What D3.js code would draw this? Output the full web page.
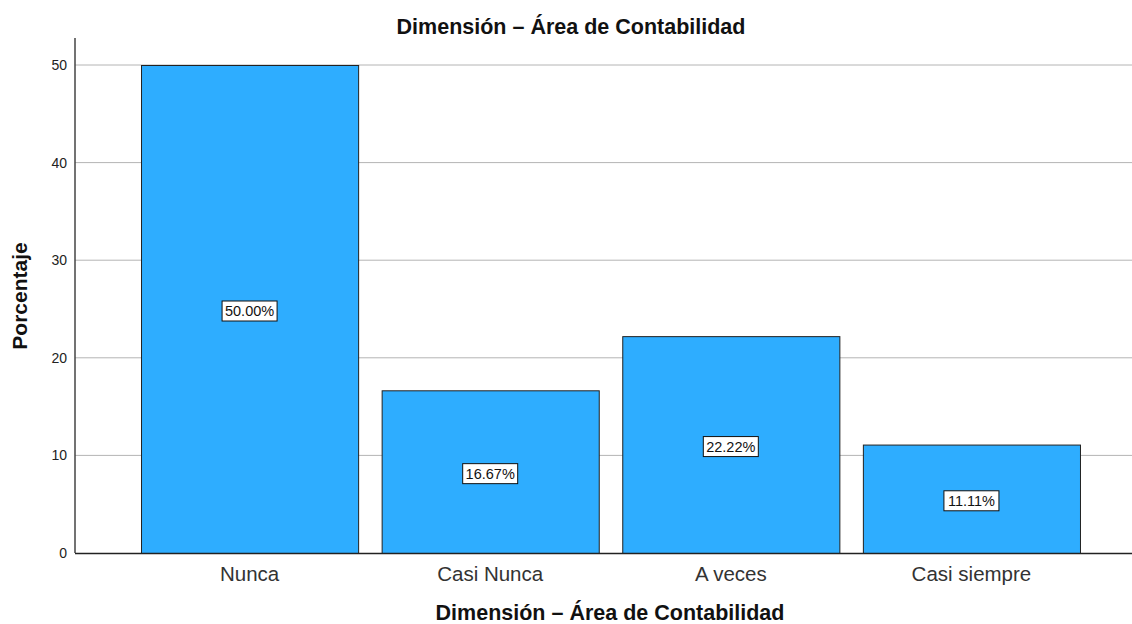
<!DOCTYPE html>
<html><head><meta charset="utf-8">
<script src="https://cdn.jsdelivr.net/npm/d3@7"></script>
<style>body{margin:0;background:#fff}svg{display:block;font-family:"Liberation Sans",Arial,sans-serif}</style>
</head><body><svg id="c" width="1132" height="624"></svg>
<script>
const categories = ["Nunca", "Casi Nunca", "A veces", "Casi siempre"];
const values = [50.00, 16.67, 22.22, 11.11];
const valueLabels = ["50.00%", "16.67%", "22.22%", "11.11%"];
const yTicks = [0, 10, 20, 30, 40, 50];
const title = "Dimensión – Área de Contabilidad";
const xTitle = "Dimensión – Área de Contabilidad";
const yTitle = "Porcentaje";

(function () {
const svg = d3.select("#c");
const mLeft = 75, mRight = 1132, mTop = 38, mBottom = 553;
const y = d3.scaleLinear().domain([0, 50]).range([mBottom, 65]);
const x = d3.scaleBand().domain(categories).range([129.25, 1091.75]).paddingInner(0.0977).paddingOuter(0.0489);

// gridlines
svg.append("g").selectAll("line").data(yTicks.filter(d => d > 0)).join("line")
  .attr("x1", mLeft).attr("x2", mRight).attr("y1", d => y(d)).attr("y2", d => y(d))
  .attr("stroke", "#b4b4b4").attr("stroke-width", 1);

// bars
svg.append("g").selectAll("rect").data(values).join("rect")
  .attr("x", (d, i) => x(categories[i]) + 0.5).attr("width", x.bandwidth())
  .attr("y", d => y(d) + 0.5).attr("height", d => mBottom - y(d))
  .attr("fill", "#2eadff").attr("stroke", "#222").attr("stroke-width", 1);

// labels
const lg = svg.append("g").selectAll("g").data(values).join("g")
  .attr("transform", (d, i) => `translate(${x(categories[i]) + x.bandwidth() / 2},${y(d / 2) + 2})`);
lg.append("rect").attr("x", -27.5).attr("y", -10).attr("width", 55).attr("height", 20)
  .attr("fill", "#fff").attr("stroke", "#111").attr("stroke-width", 1);
lg.append("text").text((d, i) => valueLabels[i]).attr("text-anchor", "middle").attr("dy", "0.36em")
  .attr("font-size", 14.5).attr("fill", "#111");

// y axis
const ya = svg.append("g").attr("transform", `translate(${mLeft},0)`)
  .call(d3.axisLeft(y).tickValues(yTicks).tickSize(0).tickPadding(8));
ya.select(".domain").remove();
ya.selectAll("text").attr("font-size", 14).attr("fill", "#222").attr("font-family", "Liberation Sans, Arial, sans-serif");
svg.append("line").attr("x1", mLeft).attr("x2", mLeft).attr("y1", mTop).attr("y2", mBottom)
  .attr("stroke", "#444").attr("stroke-width", 1.5);

// x axis
const xa = svg.append("g").attr("transform", `translate(0,${mBottom})`)
  .call(d3.axisBottom(x).tickSize(0).tickPadding(13));
xa.select(".domain").remove();
xa.selectAll("text").attr("font-size", 20.5).attr("fill", "#333").attr("font-family", "Liberation Sans, Arial, sans-serif");
svg.append("line").attr("x1", mLeft).attr("x2", mRight).attr("y1", mBottom + 0.5).attr("y2", mBottom + 0.5)
  .attr("stroke", "#222").attr("stroke-width", 1.5);

// titles
svg.append("text").attr("x", 571).attr("y", 34).attr("text-anchor", "middle")
  .attr("font-size", 21.5).attr("font-weight", "bold").attr("fill", "#111").text(title);
svg.append("text").attr("x", 610).attr("y", 620).attr("text-anchor", "middle")
  .attr("font-size", 21.5).attr("font-weight", "bold").attr("fill", "#111").text(xTitle);
svg.append("text").attr("transform", "translate(27,296) rotate(-90)").attr("text-anchor", "middle")
  .attr("font-size", 21).attr("font-weight", "bold").attr("fill", "#111").text(yTitle);
})();
</script></body></html>
